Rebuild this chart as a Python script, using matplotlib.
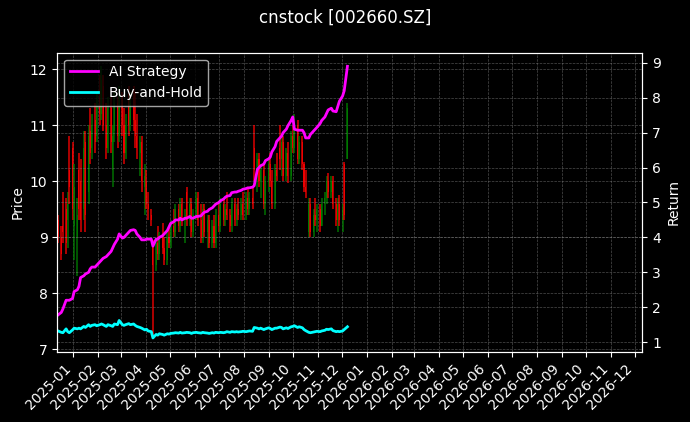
import matplotlib
matplotlib.use("Agg")
import matplotlib.pyplot as plt
import matplotlib.dates as mdates
import numpy as np
import pandas as pd

TITLE = "cnstock [002660.SZ]"

# one candle every 2 trading days, Dec 2024 -> Dec 2025
dates = pd.bdate_range(end="2025-12-08", periods=129, freq="2B")

opens = [9.3, 9.0, 9.2, 9.5, 9.3, 10.2, 10.6, 9.2, 9.0, 10.2,
         10.0, 9.5, 10.7, 9.8, 10.9, 10.6, 11.1, 10.8, 11.5, 11.2,
         11.7, 11.0, 10.6, 11.3, 10.2, 10.9, 11.4, 10.8, 11.5, 11.0,
         10.5, 11.6, 11.0, 11.5, 11.1, 10.8, 10.5, 10.7, 9.9, 10.0,
         9.6, 9.4, 8.9, 8.5, 8.9, 8.7, 9.0, 8.8, 8.6, 9.0,
         8.9, 9.2, 9.1, 9.5, 9.2, 9.6, 9.3, 9.8, 9.3, 9.6,
         9.1, 9.4, 9.7, 9.3, 9.0, 9.5, 9.1, 9.3, 8.9, 9.2,
         8.9, 9.4, 9.2, 9.6, 9.3, 9.5, 9.4, 9.2, 9.6, 9.3,
         9.5, 9.4, 9.6, 9.4, 9.7, 9.5, 9.7, 10.6, 10.2, 10.4,
         10.0, 10.2, 9.6, 10.0, 10.3, 10.0, 9.6, 10.2, 10.6, 10.4,
         10.7, 10.1, 10.5, 10.1, 10.8, 10.6, 11.0, 10.4, 10.7, 10.3,
         9.9, 9.1, 9.6, 9.1, 9.4, 9.3, 9.5, 9.2, 9.6, 9.7,
         10.0, 9.8, 10.0, 9.6, 9.3, 9.6, 9.3, 10.3, 10.4]
highs = [9.4, 9.2, 9.8, 9.7, 9.8, 10.8, 10.7, 10.3, 9.7, 10.5,
         10.4, 10.9, 10.9, 11.0, 11.3, 11.2, 11.4, 11.6, 11.9, 12.05,
         11.9, 11.4, 11.5, 11.5, 11.0, 11.6, 11.5, 11.7, 11.6, 11.3,
         11.2, 11.7, 11.6, 11.7, 11.6, 11.2, 10.8, 10.8, 10.3, 10.2,
         9.8, 9.5, 8.95, 8.95, 9.2, 9.1, 9.25, 9.0, 9.1, 9.2,
         9.3, 9.5, 9.6, 9.6, 9.7, 9.7, 9.5, 9.9, 9.7, 9.7,
         9.5, 9.8, 9.8, 9.6, 9.6, 9.6, 9.4, 9.4, 9.3, 9.4,
         9.5, 9.6, 9.7, 9.7, 9.6, 9.8, 9.5, 9.7, 9.7, 9.6,
         9.7, 9.7, 9.8, 9.8, 9.9, 9.8, 9.9, 11.0, 10.5, 10.5,
         10.3, 10.3, 10.1, 10.4, 10.5, 10.2, 10.3, 10.5, 11.0, 10.8,
         10.8, 10.6, 10.7, 10.9, 11.0, 11.2, 11.1, 10.8, 10.8, 10.35,
         10.2, 9.7, 9.7, 9.5, 9.7, 9.6, 9.6, 9.7, 9.8, 10.1,
         10.15, 10.1, 10.1, 9.7, 9.7, 9.75, 9.6, 10.34, 11.4]
lows = [8.9, 8.6, 8.9, 8.7, 8.8, 9.6, 9.3, 8.6, 8.3, 9.3,
        9.1, 9.3, 9.1, 9.6, 10.3, 10.4, 10.5, 10.7, 11.0, 11.1,
        10.9, 10.4, 10.5, 10.5, 9.9, 10.7, 10.6, 10.7, 10.8, 10.3,
        10.4, 10.8, 10.9, 10.9, 10.6, 10.4, 10.1, 9.8, 9.4, 9.5,
        9.3, 9.2, 7.2, 8.4, 8.6, 8.6, 8.7, 8.5, 8.5, 8.8,
        8.8, 9.0, 9.0, 9.1, 9.1, 9.2, 8.9, 9.2, 9.2, 9.0,
        9.0, 9.3, 9.2, 8.9, 8.9, 9.0, 8.8, 8.8, 8.8, 8.8,
        8.8, 9.1, 9.1, 9.2, 9.2, 9.3, 9.1, 9.1, 9.2, 9.2,
        9.3, 9.3, 9.3, 9.3, 9.4, 9.4, 9.5, 10.0, 9.8, 9.9,
        9.7, 9.5, 9.4, 9.8, 9.9, 9.5, 9.5, 10.0, 10.2, 10.1,
        10.0, 10.0, 9.97, 10.0, 10.5, 10.5, 10.3, 10.3, 10.2, 9.8,
        9.7, 9.0, 9.0, 9.0, 9.2, 9.1, 9.1, 9.2, 9.4, 9.6,
        9.7, 9.7, 9.5, 9.2, 9.1, 9.2, 9.1, 9.3, 10.4]
closes = [9.0, 8.7, 9.1, 8.9, 9.6, 9.9, 9.5, 9.9, 9.4, 9.5,
          9.3, 10.6, 9.4, 10.8, 10.5, 11.0, 10.7, 11.4, 11.2, 11.8,
          11.0, 10.6, 11.3, 10.7, 10.8, 11.4, 10.8, 11.5, 11.0, 10.5,
          11.0, 11.0, 11.4, 11.1, 10.8, 10.6, 10.7, 10.0, 10.1, 9.6,
          9.5, 9.3, 8.5, 8.9, 8.7, 9.0, 8.8, 8.6, 9.0, 8.9,
          9.2, 9.1, 9.5, 9.2, 9.6, 9.3, 9.4, 9.3, 9.6, 9.1,
          9.4, 9.7, 9.3, 9.0, 9.5, 9.1, 9.3, 8.9, 9.2, 8.9,
          9.4, 9.2, 9.6, 9.3, 9.5, 9.4, 9.2, 9.6, 9.3, 9.5,
          9.4, 9.6, 9.4, 9.7, 9.5, 9.7, 9.6, 10.2, 10.4, 10.0,
          10.2, 9.6, 10.0, 10.3, 10.0, 9.6, 10.2, 10.1, 10.4, 10.7,
          10.1, 10.5, 10.1, 10.8, 10.6, 11.0, 10.4, 10.7, 10.3, 9.9,
          9.8, 9.6, 9.1, 9.4, 9.3, 9.5, 9.2, 9.6, 9.7, 10.0,
          9.8, 10.0, 9.6, 9.3, 9.6, 9.3, 9.5, 9.4, 11.3]

ai_strategy = [1.78, 1.85, 1.95, 2.2, 2.2, 2.2, 2.25, 2.45, 2.5, 2.6,
               2.85, 2.9, 2.95, 3.0, 3.1, 3.15, 3.15, 3.2, 3.3, 3.35,
               3.4, 3.45, 3.5, 3.6, 3.7, 3.8, 3.95, 4.1, 3.98, 4.0,
               4.05, 4.15, 4.2, 4.22, 4.2, 4.1, 4.0, 3.93, 3.93, 3.95,
               3.95, 3.95, 3.75, 3.95, 3.95, 4.0, 4.05, 4.1, 4.2, 4.3,
               4.4, 4.45, 4.5, 4.5, 4.55, 4.5, 4.55, 4.55, 4.6, 4.55,
               4.55, 4.6, 4.6, 4.62, 4.68, 4.72, 4.75, 4.8, 4.85, 4.9,
               4.95, 5.0, 5.05, 5.1, 5.15, 5.18, 5.2, 5.28, 5.3, 5.3,
               5.32, 5.35, 5.38, 5.4, 5.42, 5.42, 5.44, 5.48, 5.95, 6.0,
               6.05, 6.1, 6.2, 6.25, 6.3, 6.45, 6.6, 6.75, 6.85, 6.9,
               7.0, 7.1, 7.2, 7.35, 7.45, 7.1, 7.07, 7.07, 7.07, 7.0,
               6.85, 6.85, 6.95, 7.05, 7.1, 7.15, 7.26, 7.35, 7.45, 7.55,
               7.65, 7.7, 7.62, 7.6, 7.75, 7.9, 8.05, 8.2, 8.9]
buy_hold = [1.32, 1.28, 1.27, 1.38, 1.3, 1.27, 1.35, 1.4, 1.38, 1.4,
            1.38, 1.45, 1.42, 1.5, 1.45, 1.48, 1.5, 1.47, 1.5, 1.52,
            1.5, 1.45, 1.5, 1.47, 1.45, 1.52, 1.5, 1.62, 1.5, 1.48,
            1.5, 1.53, 1.5, 1.52, 1.48, 1.45, 1.42, 1.4, 1.35, 1.37,
            1.32, 1.3, 1.12, 1.22, 1.2, 1.24, 1.22, 1.2, 1.24, 1.23,
            1.25, 1.26, 1.27, 1.26, 1.28, 1.26, 1.27, 1.28, 1.27, 1.25,
            1.27, 1.28, 1.27, 1.26, 1.28, 1.27, 1.26, 1.25, 1.27, 1.26,
            1.28, 1.27, 1.28, 1.27, 1.28, 1.3, 1.28, 1.3, 1.29, 1.3,
            1.29, 1.3, 1.31, 1.3, 1.31, 1.32, 1.31, 1.42, 1.4, 1.38,
            1.4, 1.36, 1.38, 1.41, 1.39, 1.36, 1.4, 1.4, 1.43, 1.42,
            1.38, 1.41, 1.39, 1.44, 1.45, 1.47, 1.42, 1.44, 1.41, 1.36,
            1.33, 1.28, 1.27, 1.29, 1.3, 1.31, 1.3, 1.32, 1.34, 1.37,
            1.36, 1.38, 1.33, 1.3, 1.31, 1.3, 1.32, 1.36, 1.44]

plt.style.use("dark_background")
fig, ax = plt.subplots(figsize=(6.9, 4.22), dpi=100)
fig.subplots_adjust(left=0.083, right=0.931, top=0.875, bottom=0.167)

o, h, l, c = map(np.asarray, (opens, highs, lows, closes))
colors = np.where(c >= o, "green", "red")
ax.vlines(dates, l, h, colors=colors, linewidth=1.2, alpha=0.8)
ax.bar(dates, np.abs(c - o), bottom=np.minimum(o, c), width=1.3,
       color=colors, alpha=0.8, linewidth=0)
ax.set_ylabel("Price")
ax.grid(True, color="gray", linestyle="--", linewidth=0.5, alpha=0.6)

ax2 = ax.twinx()
ax2.plot(dates, ai_strategy, color="magenta", linewidth=2, label="AI Strategy")
ax2.plot(dates, buy_hold, color="cyan", linewidth=2, label="Buy-and-Hold")
ax2.set_ylabel("Return")
ax2.grid(True, color="gray", linestyle="--", linewidth=0.5, alpha=0.6)
ax2.legend(loc="upper left")

ax.set_xlim(dates[0] - pd.Timedelta(days=1), pd.Timestamp("2026-12-10"))
ax.xaxis.set_major_locator(mdates.MonthLocator())
ax.xaxis.set_major_formatter(mdates.DateFormatter("%Y-%m"))
plt.setp(ax.get_xticklabels(), rotation=45, ha="right")

fig.suptitle(TITLE, fontsize=12)
fig.savefig("out.png", dpi=100)
